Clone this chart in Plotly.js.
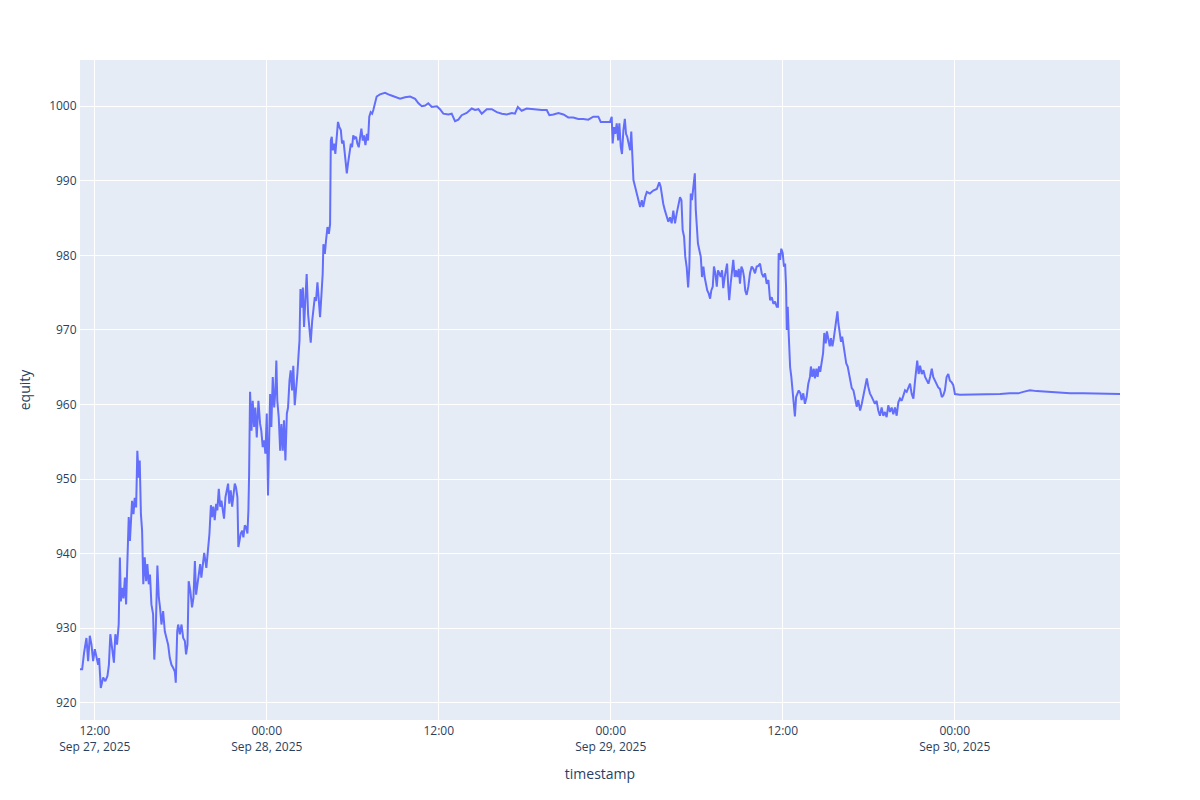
<!DOCTYPE html>
<html>
<head>
<meta charset="utf-8">
<script src="https://cdn.plot.ly/plotly-3.0.1.min.js"></script>
<style>html,body{margin:0;padding:0;background:#fff;}#chart{width:1200px;height:800px;}</style>
</head>
<body>
<div id="chart"></div>
<script>
// Time of each sample, in minutes after 2025-09-27 12:00
const startTime = "2025-09-27T12:00:00Z";
const minutesAfterStart = [
-62,-53,-45,-35,-28,-21,-14,-7,0,7,14,18,25,35,44,53,59,65,72,80,86,93,100,105,109,114,120,126,131,136,
142,147,151,156,162,167,173,178,184,188,193,198,203,209,215,220,226,231,237,244,249,255,262,268,273,279,286,293,300,307,
314,321,328,335,339,345,349,356,363,370,377,382,388,393,400,407,413,419,424,429,435,441,446,458,467,
480,486,491,496,502,508,513,519,525,530,536,541,547,553,558,563,569,575,580,586,591,597,601,605,611,617,622,628,633,639,
643,646,650,656,661,667,672,678,685,692,697,703,709,714,720,725,730,734,739,745,751,756,760,764,770,776,781,787,792,798,
804,809,815,820,826,831,837,843,848,854,857,861,
866,871,876,882,887,893,898,904,910,915,921,926,932,938,943,949,954,957,963,968,974,980,985,988,992,996,1002,1007,1013,1018,
1024,1030,1035,1041,1048,1055,1060,1066,1072,1077,1082,1088,1094,1099,1105,1111,1116,1122,1127,1133,1139,1144,1149,1155,1161,1166,1172,1180,1194,1215,
1236,1257,1278,1299,1320,1341,1355,1369,1383,1396,1411,1432,1445,1459,1480,1494,1508,1522,1536,1557,1578,1592,1606,1620,1641,1662,1683,1704,1725,1746,
1759,1771,1787,1808,1829,1850,1871,1892,1903,1920,1941,1962,1982,2003,2024,2045,2066,2087,2108,2118,2136,2150,2157,
2164,2168,2174,2179,2185,2191,2196,2202,2207,2213,2219,2224,2229,2235,2241,2246,2250,2255,2262,2269,2276,2283,2290,2296,2304,2311,2324,2338,2353,2363,
2369,2375,2380,2387,2394,2401,2408,2415,2422,2429,2436,2443,2450,2456,2461,2467,2472,2478,2484,2489,2495,2500,2506,2512,
2516,2520,2525,2531,2537,2542,2548,2553,2559,2564,2570,2576,2581,2587,2592,2598,2604,2609,2615,2620,2626,2631,2637,2643,2647,2652,2656,2662,2668,2673,
2679,2685,2690,2696,2701,2707,2713,2718,2723,2729,2736,2743,2750,2757,2764,2771,2778,2785,2792,2799,2806,2813,2820,2827,2834,2841,2848,2855,2860,2863,
2869,2874,2880,2885,2890,2894,2897,2901,2905,2911,2916,2922,2927,2931,2936,2941,2947,
2954,2959,2966,2973,2980,2987,2994,2998,3004,3010,3015,3021,3026,3032,3037,3043,3049,3054,3060,3065,3071,3077,3082,3088,3093,3099,3104,3109,3113,3119,
3124,3129,3135,3141,3146,3152,3157,3163,3169,3176,3183,3190,3196,3204,3211,3217,3224,3232,3238,3245,3253,3259,3266,
3273,3280,3287,3294,3301,3308,3315,3322,3329,3336,3343,3350,3357,3364,3371,3378,3385,3392,3399,3406,3413,3420,3427,3434,3438,3443,3449,3455,3462,3469,
3476,3483,3490,3497,3504,3510,3517,3525,3531,3538,3546,3552,3559,3566,3573,3580,3587,3594,3601,
3622,3664,3706,3748,3790,3831,3866,3887,3915,3943,3985,4027,4083,4138,4194,4250,4292
];
const equity = [
924.5,924.5,926.7,928.7,925.6,929,927.8,925.6,927.2,926,925.1,926,922,923.4,922.9,923.6,925.1,929.2,927.4,925.4,929.2,927.8,930.5,939.5,933.6,935.4,934,936.8,933.2,937.7,
944.9,941.7,944,947.1,945.3,947.5,946.2,953.8,950.2,952.5,945.3,943.1,935.9,939.5,936.3,938.6,935.9,937.2,933.2,931.9,925.8,929.6,938.4,934.1,932.8,930.5,932.3,929.6,928.7,927.8,
926,925.1,924.7,924.2,922.7,929.6,930.5,929.2,930.5,928.7,928.3,926.5,927.8,936.3,935,932.8,934.1,939,934.5,935.9,936.8,938.6,936.8,940.1,938.1,
942.7,946.5,944.9,946.3,944.5,946.7,945.8,948.7,946.3,947.1,945.4,944.7,947.6,948.5,949.4,946.7,948.5,946.3,947.6,949.4,948.9,947.6,940.9,941.8,942.7,943.1,942.2,943.8,943.6,942.7,
945.8,950.7,961.7,956.5,960.5,957,959.6,955.6,960.5,957.4,956.5,954.3,955.2,953.4,958.8,947.8,955.6,961.4,957,963.7,959.6,961.9,965.9,960.5,958.3,953.8,957.4,953.8,957.9,952.5,
958.8,959.6,963.2,964.6,961.9,965.2,959.9,961.9,964.1,967.2,968.6,975.5,
973,975.7,970.4,974.4,977.5,972.1,970.4,968.3,971.2,973,974.4,973.9,976.4,973.9,971.7,974.8,977.5,981.5,980.2,982,983.8,982.9,984.2,995.4,995.9,994.1,995,993.6,996.8,997.9,
997.2,996.8,995,995.4,993.2,991,992.3,994.1,995,994.5,996.1,995.7,995.9,995,994.5,995.9,997,995.4,996.1,994.8,996.3,995.4,998.6,999.2,999,999.5,1000.4,1001.3,1001.6,1001.8,
1001.5,1001.3,1001,1001.2,1001.3,1001,1000.4,1000,1000.1,1000.4,999.9,1000,999.6,999,998.9,999,998,998.2,998.8,999.1,999.7,999.5,999.6,999,999.6,999.6,999.2,999,998.9,999.1,
999,999.9,999.4,999.7,999.6,999.6,999.5,999.5,998.8,998.9,999.1,998.9,998.5,998.5,998.3,998.3,998.2,998.6,998.6,997.9,997.9,998,997.9,
998.6,995,997.2,996.3,997.7,995.4,997.7,994.5,993.6,996.8,998.3,996.3,995.9,995,994.1,996.6,992.8,990.1,989.2,988.3,987.4,986.5,987.4,986.5,987.8,988.5,988.3,988.7,988.9,989.8,
989.2,987.8,986.9,986,985.1,984.5,985.1,984.3,986,984.3,985.6,986.5,987.8,987.4,983.4,982.5,979.8,978.4,975.7,978.4,988.3,987.4,989.2,991,
986.1,983.4,981.6,980.7,979.8,977.1,978.5,977.1,976.2,975.3,974.9,974.2,975.3,975.8,978.5,977.6,975.8,978,977.6,977.1,978,975.6,977.1,978,978.9,975.8,974,976.2,977.6,979.4,
977.1,978,977.1,978.2,976.2,978.5,978,977.1,975.3,974.7,975.8,977.6,978.5,978.2,977.6,978.5,978.6,978.9,977.6,977.1,977.6,976.2,976.7,974,974.4,973.5,973.8,973.1,973.1,980.3,
979.4,980.9,980.3,978.5,978.9,975.8,970,973.1,969.5,965,963.7,961.9,960.1,958.4,961,961.5,961.9,
961.5,960.6,961.5,960.1,961,962.8,963.7,965.1,963.7,964.8,963.5,964.8,963.7,965.1,964.4,965.5,966.9,969.6,968.2,969.8,968.9,967.8,968.9,967.8,968.7,970.4,971.3,972.5,970.9,969.1,
968.4,969.1,967.8,966.4,965.5,965.1,964.2,963.3,962.2,961.9,961,959.7,960.6,959.2,960.1,961,962.4,963.5,962.4,961.5,961,960.6,960.1,
960.5,959.2,958.5,959.6,958.5,959,958.3,959.9,959,959.6,958.7,959.6,958.5,960.3,960.8,960.5,961.2,961.9,961.7,962.3,962.8,961.4,960.8,963.2,965,965.9,964.1,965.2,964.1,964.6,
963.7,963.2,962.8,963.7,964.8,963.7,963.2,962.8,962.3,962.1,961,961.2,961.9,963.7,964.1,963.2,963,962.6,961.4,
961.3,961.3,961.3,961.4,961.4,961.5,961.5,961.7,961.9,961.8,961.7,961.6,961.5,961.5,961.5,961.4,961.4
];
const xTitle = "timestamp";
const yTitle = "equity";

const base = Date.parse(startTime);
function toStamp(m){
  return new Date(base + m*60000).toISOString().slice(0,19).replace('T',' ');
}
const timestamps = minutesAfterStart.map(toStamp);

const trace = {
  type: 'scatter', mode: 'lines',
  x: timestamps, y: equity,
  line: {color: '#636efa', width: 2},
  showlegend: false
};
const layout = {
  width: 1200, height: 800,
  margin: {l: 80, r: 80, t: 60, b: 80},
  paper_bgcolor: 'white',
  plot_bgcolor: '#E5ECF6',
  font: {family: '"Open Sans", verdana, arial, sans-serif', size: 12, color: '#2a3f5f'},
  xaxis: {
    type: 'date',
    range: [timestamps[0], timestamps[timestamps.length-1]],
    gridcolor: 'white', linecolor: 'white', zerolinecolor: 'white', zerolinewidth: 2,
    ticks: '', automargin: true,
    tick0: '2025-09-27 00:00', dtick: 43200000,
    title: {text: xTitle, standoff: 15, font: {size: 14}}
  },
  yaxis: {
    range: [917.7, 1006.2],
    dtick: 10,
    gridcolor: 'white', linecolor: 'white', zerolinecolor: 'white', zerolinewidth: 2,
    ticks: '', automargin: true,
    title: {text: yTitle, standoff: 15, font: {size: 14}}
  }
};
Plotly.newPlot('chart', [trace], layout, {displayModeBar: false, staticPlot: true});
</script>
</body>
</html>
